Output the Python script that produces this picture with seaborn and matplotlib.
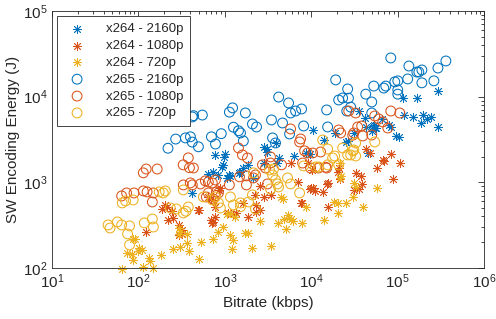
import numpy as np
import pandas as pd
import matplotlib
matplotlib.use("Agg")
import matplotlib.pyplot as plt
import seaborn as sns
from matplotlib.ticker import LogLocator, NullFormatter

# bitrate (kbps) / energy (J)
x264_2160_rate = [421, 645, 737, 843, 938, 963, 1070, 1131, 1477, 1644,
                  1880, 777, 1016, 990, 1161, 1517, 2148, 2880, 3970, 2880,
                  3040, 3120, 3864, 4190, 6250, 8610, 9590, 10380, 13940, 18690,
                  25070, 26440, 31060, 41650, 42770, 45120, 52990, 54400, 65570, 79060,
                  83400, 95300, 103200, 114900, 150100, 167000, 185800, 196000, 218200, 242700,
                  292600, 292600, 118000, 50200, 35480, 51500, 55870]
x264_2160_energy = [752, 1254, 1322, 1220, 1512, 1600, 1126, 1218, 1288, 1472,
                    1600, 2086, 2140, 2000, 1186, 1322, 1126, 1684, 1684, 2588,
                    2450, 2263, 2883, 1925, 2030, 2200, 2143, 4085, 3120, 3770,
                    2960, 3040, 3770, 5640, 4430, 2200, 4670, 4310, 5490, 4670,
                    4430, 3480, 3385, 9650, 5790, 9650, 4930, 6110, 5490, 5790,
                    4430, 11660, 6110, 3980, 6800, 4550, 4310]

x264_1080_rate = [123, 189, 205, 216, 247, 254, 222, 297, 322, 297,
                  322, 494, 645, 698, 737, 778, 737, 866, 1101, 1258,
                  1364, 777, 889, 507, 698, 717, 1644, 2327, 2588, 2588,
                  3381, 1880, 2265, 2806, 2327, 6955, 7535, 9590, 10380, 10960,
                  13560, 15100, 15500, 20240, 20800, 21360, 31060, 32750, 37420, 35480,
                  57400, 69210, 88000, 106000, 83400, 42770, 67360, 47610, 9085, 5768,
                  10110, 7740, 15500, 9840, 38430]
x264_1080_energy = [264, 489, 545, 516, 464, 384, 364, 243, 250, 318,
                    278, 476, 675, 640, 623, 394, 345, 815, 439, 427,
                    439, 516, 860, 476, 364, 336, 575, 545, 476, 908,
                    713, 394, 713, 675, 451, 1011, 575, 837, 860, 794,
                    773, 958, 516, 1322, 1472, 1095, 815, 1288, 1186, 837,
                    1472, 1777, 1095, 1684, 2143, 2450, 1825, 2200, 1684, 1684,
                    1395, 575, 984, 860, 958]

x264_720_rate = [64, 73, 84, 87, 92, 87, 99, 102, 111, 114,
                 133, 137, 149, 184, 254, 297, 305, 297, 368, 305,
                 368, 389, 535, 507, 737, 843, 963, 1161, 1258, 1880,
                 1225, 1734, 2588, 3381, 4076, 5047, 4416, 1327, 1161, 1072,
                 2091, 4660, 4786, 5324, 5768, 6085, 7739, 8613, 13940, 18200,
                 20240, 20240, 21934, 25070, 30230, 32750, 39500, 57400, 21360, 21360,
                 31060, 5470]
x264_720_energy = [98, 150, 147, 219, 219, 124, 159, 172, 163, 103,
                   131, 121, 100, 143, 167, 293, 264, 250, 250, 177,
                   197, 159, 202, 127, 219, 264, 301, 243, 213, 257,
                   167, 257, 354, 181, 336, 286, 675, 394, 439, 427,
                   172, 640, 374, 416, 374, 354, 336, 516, 364, 591,
                   575, 439, 1186, 575, 675, 883, 516, 860, 1684, 1126,
                   984, 384]

x265_2160_rate = [220, 270, 350, 400, 420, 495, 420, 435, 550, 700,
                  780, 910, 1130, 1230, 1260, 1440, 1520, 1730, 1640, 4200,
                  3470, 4660, 3570, 2090, 2330, 3860, 5470, 5620, 5770, 6600,
                  7740, 8170, 15100, 15500, 19200, 20800, 23100, 25800, 26400, 27000,
                  28650, 42800, 50200, 50200, 53000, 69200, 73000, 83400, 92800, 100500,
                  100500, 100500, 131000, 135000, 167000, 176000, 191000, 191000, 263000, 293000,
                  362000]
x265_2160_energy = [2500, 3200, 3300, 3400, 2950, 2600, 5800, 6000, 6100, 3400,
                    2800, 3700, 6600, 7400, 4400, 4000, 3770, 6450, 3040, 9900,
                    5350, 4930, 3300, 4800, 4430, 2880, 8450, 3670, 6450, 6800,
                    7180, 4550, 7000, 4430, 15700, 9150, 9650, 6800, 12300, 9600,
                    7550, 10700, 8670, 6450, 13300, 12600, 13300, 28300, 14900, 15300,
                    11970, 10700, 16100, 22800, 19400, 19400, 20500, 14500, 15300, 21600,
                    26100]

x265_1080_rate = [114, 123, 165, 330, 390, 378, 64, 73, 89, 114,
                  126, 149, 145, 331, 399, 421, 521, 595, 645, 717,
                  799, 843, 645, 611, 737, 1780, 1780, 1440, 1600, 1830,
                  433, 778, 1480, 2150, 2730, 2960, 3380, 1130, 3120, 4540,
                  5770, 7340, 8390, 9090, 10400, 12860, 20800, 21900, 27200, 31100,
                  30200, 32700, 34500, 38400, 39500, 50200, 54400, 60500, 67400, 77000,
                  83400, 106000, 3380, 15100, 2265, 7950, 9840, 12200, 14700, 7540]
x265_1080_energy = [1290, 1430, 1430, 1600, 1480, 1930, 694, 752, 752, 794,
                    773, 752, 590, 933, 984, 933, 958, 1040, 1010, 984,
                    773, 752, 752, 675, 640, 933, 1190, 2520, 2090, 1925,
                    1470, 1066, 1160, 1126, 1600, 1470, 1680, 933, 958, 1600,
                    4200, 2960, 2330, 2200, 2200, 2260, 4085, 3770, 6800, 3770,
                    3550, 6450, 4430, 4550, 3480, 3570, 5950, 5490, 5070, 4310,
                    6800, 6450, 1980, 1470, 1220, 1680, 1470, 1470, 1500, 3210]

x265_720_rate = [44.6, 47, 57, 64, 75, 79, 79, 65, 71, 87,
                 117, 145, 149, 174, 194, 205, 234, 275, 331, 355,
                 378, 331, 565, 717, 843, 889, 1160, 1520, 1260, 1880,
                 777, 1520, 2090, 3380, 4190, 2150, 3665, 3860, 2265, 3290,
                 3570, 4080, 5320, 5770, 7340, 8170, 11250, 12190, 15500, 20800,
                 13560, 23140, 26400, 31100, 32700, 54400, 18700, 17700, 15500, 28650,
                 30200, 32700]
x265_720_energy = [318, 293, 345, 318, 250, 310, 186, 575, 607, 623,
                   336, 374, 301, 773, 752, 794, 502, 489, 439, 460,
                   516, 815, 675, 623, 575, 502, 675, 575, 545, 591,
                   675, 520, 713, 837, 883, 1290, 1430, 1066, 489, 1395,
                   1218, 958, 1126, 958, 752, 1553, 1512, 1512, 1600, 1600,
                   3120, 2520, 2090, 2390, 2030, 2960, 2030, 1925, 2450, 2090,
                   2325, 2880]

series = [
    ("x264 - 2160p", x264_2160_rate, x264_2160_energy, "#0072BD", "star"),
    ("x264 - 1080p", x264_1080_rate, x264_1080_energy, "#D95319", "star"),
    ("x264 - 720p", x264_720_rate, x264_720_energy, "#EDB120", "star"),
    ("x265 - 2160p", x265_2160_rate, x265_2160_energy, "#0072BD", "circle"),
    ("x265 - 1080p", x265_1080_rate, x265_1080_energy, "#D95319", "circle"),
    ("x265 - 720p", x265_720_rate, x265_720_energy, "#EDB120", "circle"),
]

sns.set_style("white")
plt.rcParams["font.family"] = ["Liberation Sans", "DejaVu Sans"]
plt.rcParams["mathtext.default"] = "regular"
plt.rcParams["axes.edgecolor"] = "#262626"
plt.rcParams["axes.linewidth"] = 0.6

fig = plt.figure(figsize=(4.96, 3.19), dpi=100)
ax = fig.add_axes([52 / 496, 1 - 268 / 319, 432 / 496, 257 / 319])

for name, rate, energy, col, kind in series:
    df = pd.DataFrame({"Bitrate": rate, "Energy": energy})
    if kind == "star":
        sns.scatterplot(data=df, x="Bitrate", y="Energy", ax=ax, marker=(8, 2, 0),
                        color=col, s=34, linewidth=0.6, label=name, clip_on=False)
    else:
        sns.scatterplot(data=df, x="Bitrate", y="Energy", ax=ax, marker="o",
                        facecolor="none", edgecolor=col, color=col, s=50,
                        linewidth=0.75, label=name, clip_on=False)

ax.set_xscale("log")
ax.set_yscale("log")
ax.set_xlim(10, 1e6)
ax.set_ylim(100, 1e5)
ax.xaxis.set_minor_locator(LogLocator(base=10, subs=np.arange(2, 10), numticks=20))
ax.yaxis.set_minor_locator(LogLocator(base=10, subs=np.arange(2, 10), numticks=20))
ax.xaxis.set_minor_formatter(NullFormatter())
ax.yaxis.set_minor_formatter(NullFormatter())
ax.tick_params(which="both", direction="in", top=True, right=True,
               colors="#262626", labelsize=11, width=0.6)
ax.tick_params(which="major", length=4.5)
ax.tick_params(which="minor", length=2.5)
for sp in ax.spines.values():
    sp.set_visible(True)

ax.set_xlabel("Bitrate (kbps)", fontsize=11, color="#262626", labelpad=3)
ax.set_ylabel("SW Encoding Energy (J)", fontsize=11, color="#262626", labelpad=2)

leg = ax.legend(loc="upper left", fontsize=9.5, frameon=True, fancybox=False,
                framealpha=1, edgecolor="#262626", borderpad=0.5,
                handletextpad=1.2, labelspacing=0.35, borderaxespad=0.4)
leg.get_frame().set_linewidth(0.6)

plt.savefig("out.png", dpi=100)
plt.close()
